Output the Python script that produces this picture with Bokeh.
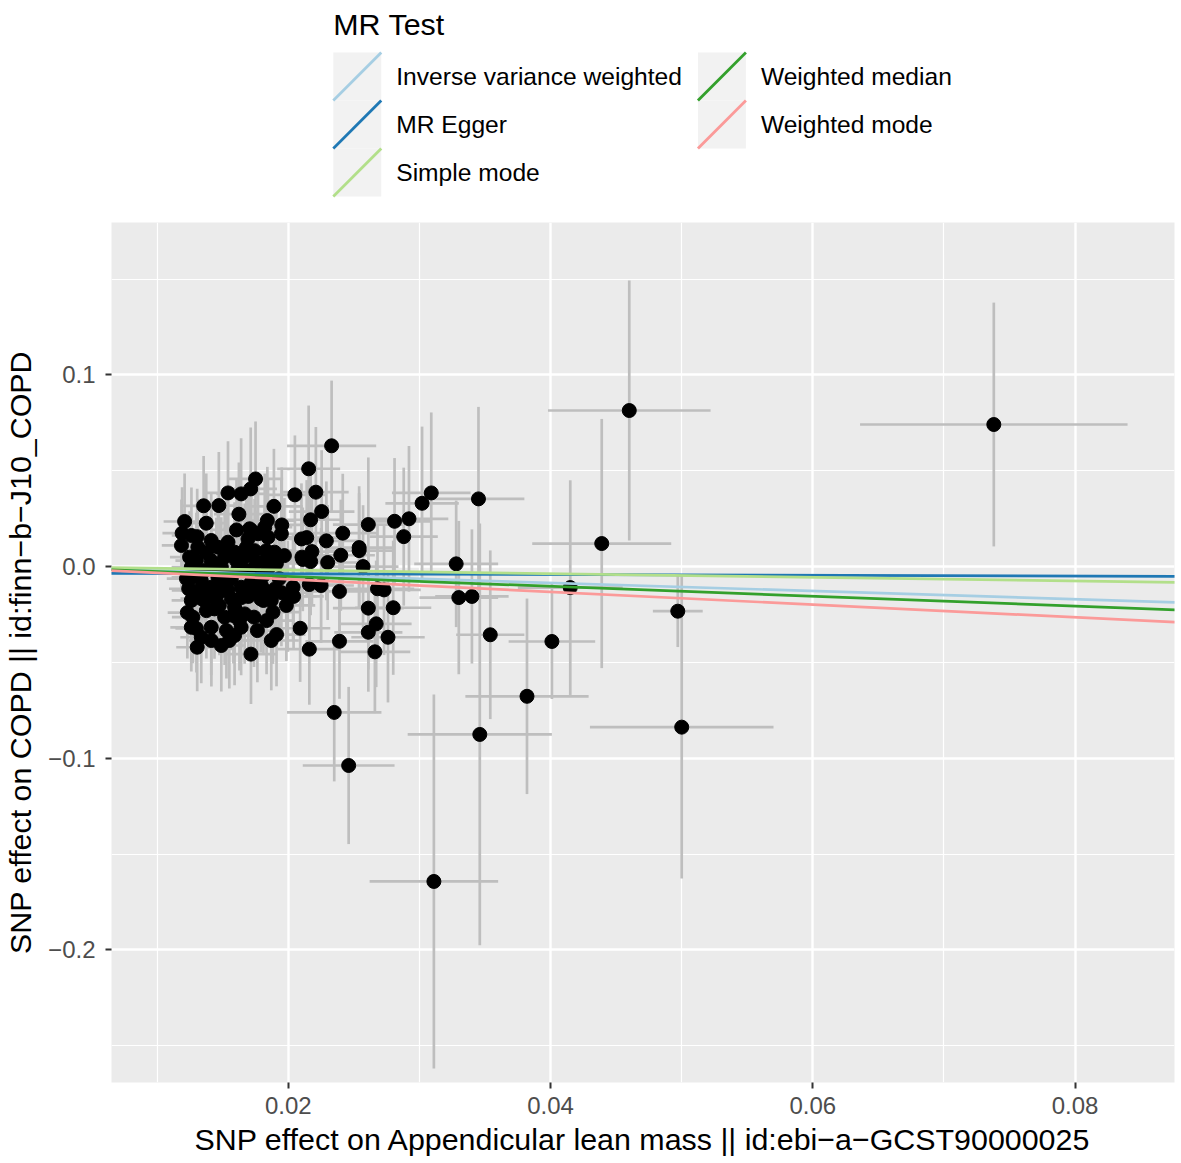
import numpy as np
from bokeh.plotting import figure
from bokeh.layouts import column
from bokeh.models import Range1d, FixedTicker, Slope, CustomJSTickFormatter, ColumnDataSource
from bokeh.core.properties import value
from bokeh.embed import file_html
from bokeh.resources import INLINE

FONT = "Liberation Sans"

# ---------------- data ----------------
beta_exposure = [
    0.0738, 0.0460, 0.0439, 0.0415, 0.0497, 0.0500, 0.0401, 0.0382, 0.0346, 0.0311,
    0.0246, 0.0235, 0.0233, 0.0345, 0.0309, 0.0302, 0.0292, 0.0288, 0.0328, 0.0330,
    0.0340, 0.0354, 0.02155, 0.0175, 0.01713, 0.0164, 0.0154, 0.0205, 0.0221, 0.01354,
    0.0147, 0.0189, 0.02254, 0.01623, 0.01209, 0.01374, 0.0217, 0.0184, 0.0195, 0.0261,
    0.0281, 0.02415, 0.01605, 0.0119, 0.01305, 0.0210, 0.0214, 0.0229, 0.0254, 0.0254,
    0.0240, 0.0218, 0.0211, 0.0230, 0.0217, 0.0257, 0.02104, 0.01718, 0.02036, 0.0216,
    0.0225, 0.0239, 0.0204, 0.0190, 0.0268, 0.0273, 0.0261, 0.0280, 0.0267, 0.0261,
    0.0276, 0.0266, 0.0239, 0.0216, 0.0209, 0.0191, 0.01715, 0.01883, 0.01834, 0.01738,
    0.01695, 0.0179, 0.0164, 0.0159, 0.0155, 0.01489, 0.01305, 0.01336, 0.0126, 0.01272,
    0.0126, 0.0124, 0.01361, 0.01437, 0.01412, 0.01463, 0.0154, 0.0159, 0.0164, 0.01718,
    0.0182, 0.01667, 0.01514, 0.01997, 0.01247, 0.0131, 0.01412, 0.01463, 0.01514, 0.0159,
    0.01667, 0.01743, 0.0182, 0.01895, 0.01845, 0.01769, 0.01692, 0.0154, 0.01412, 0.01947,
    0.0182, 0.01705, 0.0126, 0.0136, 0.01489, 0.01616, 0.01718, 0.01845, 0.0126, 0.01336,
    0.01463, 0.01565, 0.01412, 0.01336, 0.01756, 0.01299, 0.01375, 0.01451, 0.01528, 0.01604,
    0.01680, 0.01756, 0.01832, 0.01909, 0.01970, 0.01261, 0.01337, 0.01413, 0.01490, 0.01566,
    0.01642, 0.01718, 0.01794, 0.01870, 0.01947, 0.01223, 0.01299, 0.01680, 0.01550, 0.01810,
    0.01931, 0.01375, 0.01474, 0.01581, 0.01230, 0.01299, 0.01413, 0.01528, 0.01627, 0.01764,
    0.01870, 0.01810, 0.01985, 0.01185, 0.01261,
]
beta_outcome = [
    0.0741, 0.0814, 0.0120, -0.0110, -0.0233, -0.0838, -0.0391, -0.0677, -0.0876, -0.1643,
    -0.1038, -0.0761, 0.0630, 0.0353, 0.0384, 0.0330, 0.0249, 0.0156, 0.0014, -0.0162,
    -0.0156, -0.0356, 0.0510, 0.0457, 0.0405, 0.0379, 0.0384, 0.0374, 0.0388, 0.0317,
    0.0318, 0.0314, 0.0287, 0.0273, 0.0235, 0.0226, 0.0244, 0.0240, 0.0217, 0.0219,
    0.0236, 0.0174, 0.0191, 0.0174, 0.0156, 0.0144, 0.0151, 0.0134, 0.0099, 0.0083,
    0.0059, 0.0078, 0.0037, 0.0021, 0.0026, 0.0000, 0.0049, 0.0188, -0.0108, -0.0094,
    -0.0099, -0.0130, -0.0156, -0.0116, -0.0116, -0.0122, -0.0217, -0.0215, -0.0299, -0.0343,
    -0.0369, -0.0445, -0.0390, -0.0431, -0.0322, -0.0355, -0.0457, -0.0238, -0.0282, -0.0264,
    -0.0156, -0.0169, -0.0317, -0.0360, -0.0386, -0.0412, -0.0421, -0.0369, -0.0317, -0.0264,
    -0.0177, -0.0116, -0.0177, -0.0221, -0.0317, -0.0142, -0.0125, -0.0212, -0.0108, -0.0082,
    -0.0125, -0.0247, -0.0264, -0.0155, 0.0049, 0.0101, 0.0031, 0.0101, 0.0049, 0.0075,
    0.0049, 0.0083, 0.0031, 0.0075, 0.0153, 0.0171, 0.0144, 0.0127, 0.0136, 0.0171,
    0.0205, 0.0197, -0.0003, -0.0021, -0.0003, -0.0012, -0.0021, -0.0012, -0.0056, -0.0073,
    -0.0056, -0.0064, -0.0108, -0.0125, -0.0047, 0.0031, 0.0073, 0.0005, 0.0094, 0.0031,
    0.0099, 0.0021, 0.0083, 0.0016, 0.0057, -0.0125, -0.0167, -0.0151, -0.0099, -0.0167,
    -0.0162, -0.0136, -0.0099, -0.0177, -0.0136, -0.0063, -0.0031, -0.0021, -0.0047, -0.0047,
    -0.0063, -0.0230, -0.0203, -0.0256, -0.0240, -0.0323, -0.0386, -0.0334, -0.0282, -0.0334,
    -0.0386, -0.0177, -0.0203, 0.0110, 0.0162,
]
se_exposure = [
    0.0102, 0.0062, 0.0053, 0.0040, 0.0019, 0.0070, 0.0033, 0.0047, 0.0055, 0.0049,
    0.0035, 0.0036, 0.0034, 0.0035, 0.0030, 0.0028, 0.0030, 0.0026, 0.0032, 0.0030,
    0.0028, 0.0026, 0.0024, 0.0021, 0.0020, 0.0019, 0.0018, 0.0023, 0.0025, 0.0017,
    0.0018, 0.0022, 0.0025, 0.0019, 0.0016, 0.0017, 0.0024, 0.0021, 0.0022, 0.0027,
    0.0028, 0.0026, 0.0019, 0.0015, 0.0016, 0.0023, 0.0024, 0.0025, 0.0027, 0.0026,
    0.0026, 0.0024, 0.0023, 0.0025, 0.0024, 0.0027, 0.0023, 0.0020, 0.0023, 0.0024,
    0.0025, 0.0026, 0.0023, 0.0022, 0.0028, 0.0028, 0.0027, 0.0029, 0.0027, 0.0026,
    0.0028, 0.0027, 0.0026, 0.0024, 0.0023, 0.0022, 0.0020, 0.0021, 0.0021, 0.0020,
    0.0020, 0.0021, 0.0019, 0.0018, 0.0018, 0.0018, 0.0016, 0.0016, 0.0016, 0.0016,
    0.0015, 0.0015, 0.0016, 0.0017, 0.0017, 0.0017, 0.0018, 0.0018, 0.0019, 0.0020,
    0.0021, 0.0019, 0.0018, 0.0022, 0.0015, 0.0016, 0.0017, 0.0017, 0.0018, 0.0018,
    0.0019, 0.0020, 0.0021, 0.0022, 0.0021, 0.0020, 0.0019, 0.0018, 0.0017, 0.0022,
    0.0021, 0.0020, 0.0015, 0.0016, 0.0017, 0.0019, 0.0020, 0.0021, 0.0015, 0.0016,
    0.0017, 0.0018, 0.0017, 0.0016, 0.0020, 0.0016, 0.0016, 0.0017, 0.0018, 0.0019,
    0.0019, 0.0020, 0.0021, 0.0022, 0.0022, 0.0015, 0.0016, 0.0017, 0.0017, 0.0018,
    0.0019, 0.0020, 0.0021, 0.0021, 0.0022, 0.0015, 0.0016, 0.0019, 0.0018, 0.0021,
    0.0022, 0.0016, 0.0017, 0.0018, 0.0015, 0.0016, 0.0017, 0.0018, 0.0019, 0.0020,
    0.0021, 0.0021, 0.0022, 0.0015, 0.0015,
]
se_outcome = [
    0.0636, 0.0678, 0.0650, 0.0560, 0.0187, 0.0790, 0.0300, 0.0510, 0.1100, 0.0976,
    0.0410, 0.0360, 0.0340, 0.0480, 0.0420, 0.0400, 0.0380, 0.0360, 0.0330, 0.0400,
    0.0350, 0.0440, 0.0330, 0.0300, 0.0320, 0.0290, 0.0270, 0.0310, 0.0340, 0.0260,
    0.0280, 0.0300, 0.0320, 0.0270, 0.0250, 0.0260, 0.0290, 0.0280, 0.0300, 0.0350,
    0.0330, 0.0310, 0.0260, 0.0240, 0.0250, 0.0290, 0.0300, 0.0310, 0.0320, 0.0300,
    0.0290, 0.0280, 0.0270, 0.0300, 0.0280, 0.0320, 0.0260, 0.0270, 0.0280, 0.0290,
    0.0300, 0.0310, 0.0270, 0.0280, 0.0330, 0.0340, 0.0320, 0.0350, 0.0330, 0.0310,
    0.0340, 0.0320, 0.0300, 0.0290, 0.0280, 0.0270, 0.0260, 0.0270, 0.0280, 0.0260,
    0.0270, 0.0280, 0.0250, 0.0260, 0.0250, 0.0240, 0.0230, 0.0240, 0.0230, 0.0240,
    0.0250, 0.0240, 0.0250, 0.0260, 0.0250, 0.0260, 0.0270, 0.0260, 0.0270, 0.0280,
    0.0290, 0.0260, 0.0250, 0.0290, 0.0240, 0.0250, 0.0260, 0.0250, 0.0270, 0.0260,
    0.0280, 0.0270, 0.0290, 0.0280, 0.0300, 0.0280, 0.0270, 0.0260, 0.0250, 0.0290,
    0.0280, 0.0270, 0.0240, 0.0250, 0.0260, 0.0270, 0.0260, 0.0280, 0.0250, 0.0240,
    0.0260, 0.0270, 0.0250, 0.0260, 0.0270, 0.0250, 0.0260, 0.0250, 0.0270, 0.0260,
    0.0280, 0.0270, 0.0280, 0.0290, 0.0300, 0.0240, 0.0250, 0.0260, 0.0250, 0.0270,
    0.0260, 0.0270, 0.0280, 0.0290, 0.0280, 0.0230, 0.0240, 0.0270, 0.0260, 0.0280,
    0.0290, 0.0250, 0.0260, 0.0250, 0.0240, 0.0230, 0.0240, 0.0250, 0.0260, 0.0270,
    0.0260, 0.0280, 0.0290, 0.0240, 0.0250,
]

methods = ["Inverse variance weighted", "MR Egger", "Simple mode",
           "Weighted median", "Weighted mode"]
method_colors = ["#A6CEE3", "#1F78B4", "#B2DF8A", "#33A02C", "#FB9A99"]
method_slopes = [-0.213, -0.020, -0.094, -0.258, -0.331]
method_intercepts = [0.0, -0.0034, 0.0, 0.0, 0.0]

x_ticks = [0.02, 0.04, 0.06, 0.08]
x_minor = [0.01, 0.03, 0.05, 0.07]
y_ticks = [-0.2, -0.1, 0.0, 0.1]
y_minor = [-0.25, -0.15, -0.05, 0.05, 0.15]

x_title = "SNP effect on Appendicular lean mass || id:ebi\u2212a\u2212GCST90000025"
y_title = "SNP effect on COPD || id:finn\u2212b\u2212J10_COPD"
legend_title = "MR Test"

# ---------------- layout constants (page pixels) ----------------
FRAME_L, FRAME_R = 110, 1174
TOTAL_W = 1178
LEG_H = 210
MAIN_H = 950

# ---------------- main scatter ----------------
bx = np.array(beta_exposure)
by = np.array(beta_outcome)
sx = np.array(se_exposure)
sy = np.array(se_outcome)
src = ColumnDataSource(dict(x=bx, y=by, xlo=bx - sx, xhi=bx + sx, ylo=by - sy, yhi=by + sy))

p = figure(width=TOTAL_W, height=MAIN_H,
           x_range=Range1d(0.006514, 0.08758), y_range=Range1d(-0.2692, 0.1795),
           toolbar_location=None, output_backend="svg",
           min_border_left=FRAME_L, min_border_right=TOTAL_W - FRAME_R,
           min_border_top=12, min_border_bottom=78)
p.background_fill_color = "#EBEBEB"
p.border_fill_color = "white"
p.outline_line_color = None

p.xaxis.ticker = FixedTicker(ticks=x_ticks, minor_ticks=x_minor)
p.yaxis.ticker = FixedTicker(ticks=y_ticks, minor_ticks=y_minor)
p.xaxis.formatter = CustomJSTickFormatter(code="return tick.toFixed(2);")
p.yaxis.formatter = CustomJSTickFormatter(code="return tick.toFixed(1).replace('-', '\u2212');")

for ax in (p.xaxis, p.yaxis):
    ax.axis_line_color = None
    ax.major_tick_line_color = "#333333"
    ax.major_tick_line_width = 2
    ax.major_tick_out = 6
    ax.major_tick_in = 0
    ax.minor_tick_line_color = None
    ax.major_label_text_font = FONT
    ax.major_label_text_font_size = "24px"
    ax.major_label_text_color = "#4D4D4D"
    ax.axis_label_text_font = FONT
    ax.axis_label_text_font_size = "30.4px"
    ax.axis_label_text_font_style = "normal"
    ax.axis_label_text_color = "black"
p.xaxis.major_label_standoff = 8
p.xaxis.axis_label_standoff = 5
p.yaxis.major_label_standoff = 10
p.yaxis.axis_label_standoff = 8
p.xaxis.axis_label = x_title
p.yaxis.axis_label = y_title

p.grid.grid_line_color = "white"
p.grid.grid_line_width = 2.4
p.grid.minor_grid_line_color = "white"
p.grid.minor_grid_line_width = 1.2

p.segment(x0="x", y0="ylo", x1="x", y1="yhi", source=src, line_color="#BEBEBE", line_width=2.7)
p.segment(x0="xlo", y0="y", x1="xhi", y1="y", source=src, line_color="#BEBEBE", line_width=2.7)
p.scatter(x="x", y="y", source=src, size=14, fill_color="black", line_color="black")

for m, c, b, a in zip(methods, method_colors, method_slopes, method_intercepts):
    p.add_layout(Slope(gradient=b, y_intercept=a, line_color=c, line_width=2.7))

# ---------------- legend (own panel above; frame aligns with the main frame) ----------------
lg = figure(width=TOTAL_W, height=LEG_H, x_range=Range1d(FRAME_L, FRAME_R), y_range=Range1d(LEG_H, 0),
            toolbar_location=None, output_backend="svg", x_axis_type=None, y_axis_type=None,
            min_border_left=FRAME_L, min_border_right=TOTAL_W - FRAME_R,
            min_border_top=0, min_border_bottom=0)
lg.outline_line_color = None
lg.grid.visible = False
lg.background_fill_color = "white"
lg.border_fill_color = "white"

key = 48
col_x = [332, 697]
row_y0 = 52
kx, ky, tx, ty = [], [], [], []
for i, m in enumerate(methods):
    col, row = divmod(i, 3)
    x0 = col_x[col]
    y0 = row_y0 + row * key
    kx.append(x0)
    ky.append(y0)
    tx.append(x0 + key + 15)
    ty.append(y0 + key / 2)
kx = np.array(kx, float)
ky = np.array(ky, float)
lg.quad(left=kx, right=kx + key, top=ky, bottom=ky + key, fill_color="#F2F2F2", line_color=None)
lg.segment(x0=kx, y0=ky + key, x1=kx + key, y1=ky, line_color=method_colors, line_width=2.8)
lg.text(x=tx, y=ty, text=methods, text_font=value(FONT), text_font_size="24.6px",
        text_baseline="middle", text_color="black")
lg.text(x=[332], y=[23], text=[legend_title], text_font=value(FONT), text_font_size="30.4px",
        text_baseline="middle", text_color="black")

layout = column(lg, p, spacing=0)
open("out.html", "w").write(file_html(layout, INLINE))
